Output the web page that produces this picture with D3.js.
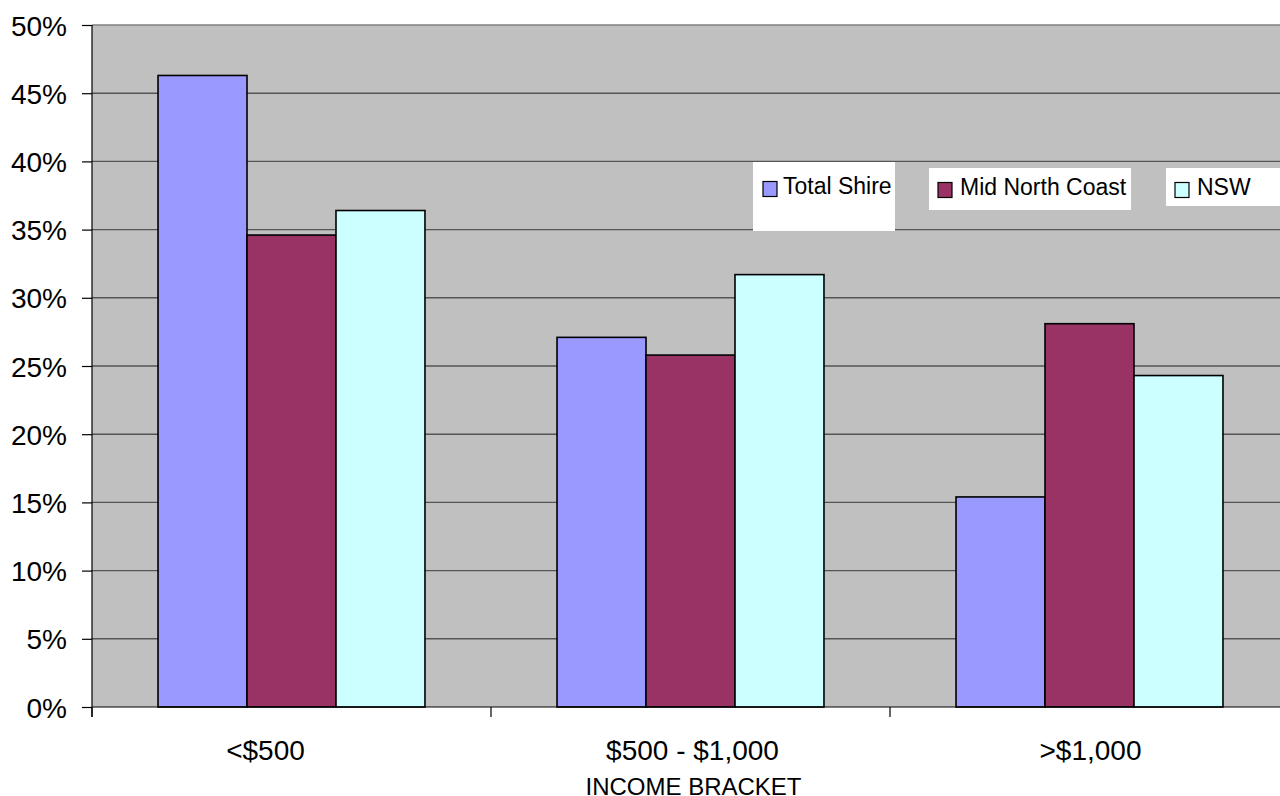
<!DOCTYPE html>
<html><head><meta charset="utf-8">
<script src="https://cdn.jsdelivr.net/npm/d3@7"></script>
<style>
html,body{margin:0;padding:0;background:#fff;overflow:hidden;}
text{font-family:"Liberation Sans",Arial,sans-serif;fill:#000;}
</style></head>
<body><svg id="chart" width="1280" height="796"></svg>
<script>
const categories = ["<$500", "$500 - $1,000", ">$1,000"];
const seriesNames = ["Total Shire", "Mid North Coast", "NSW"];
const totalShire = [0.463, 0.271, 0.154];
const midNorthCoast = [0.346, 0.258, 0.281];
const nsw = [0.364, 0.317, 0.243];
const yTicks = [0, 0.05, 0.10, 0.15, 0.20, 0.25, 0.30, 0.35, 0.40, 0.45, 0.50];
const colors = ["#9999ff", "#993366", "#ccffff"];
const xTitle = "INCOME BRACKET";
const sourceNote = "Source: Table Data ABS Census";

(function () {
const seriesValues = [totalShire, midNorthCoast, nsw];
const svg = d3.select("#chart");
const pl = 92, pr = 1289, pt = 25, pb = 707;

const x0 = d3.scaleBand().domain(categories).range([pl, pr]).paddingInner(0).paddingOuter(0);
const x1 = d3.scaleBand().domain(seriesNames).range([0, x0.bandwidth()]).paddingInner(0).paddingOuter(0.742);
const y = d3.scaleLinear().domain([0, 0.5]).range([pb, pt]);

svg.append("rect").attr("x", pl).attr("y", pt).attr("width", pr - pl).attr("height", pb - pt).attr("fill", "#c0c0c0");

svg.append("g").selectAll("line").data(yTicks.filter(d => d > 0)).join("line")
  .attr("x1", pl).attr("x2", pr)
  .attr("y1", d => y(d)).attr("y2", d => y(d))
  .attr("stroke", d => d === 0.5 ? "#808080" : "#555").attr("stroke-width", 1.4);

const rows = categories.map((c, i) => ({cat: c, vals: seriesNames.map((s, j) => ({s, j, v: seriesValues[j][i]}))}));
const g = svg.append("g").selectAll("g").data(rows).join("g").attr("transform", d => `translate(${x0(d.cat)},0)`);
g.selectAll("rect").data(d => d.vals).join("rect")
  .attr("x", d => x1(d.s)).attr("width", x1.bandwidth())
  .attr("y", d => y(d.v)).attr("height", d => y(0) - y(d.v))
  .attr("fill", d => colors[d.j]).attr("stroke", "#000").attr("stroke-width", 1.6);

const yAxis = d3.axisLeft(y).tickValues(yTicks).tickFormat(d3.format(".0%")).tickSize(10).tickPadding(15);
const ya = svg.append("g").attr("transform", `translate(${pl},0)`).call(yAxis);
ya.select(".domain").attr("stroke", "#000").attr("stroke-width", 1.2).attr("d", `M0,${pt}V${pb + 10}`);
ya.selectAll(".tick line").attr("stroke", "#000").attr("stroke-width", 1.2);
ya.selectAll(".tick text").attr("font-size", 28).attr("font-family", "Liberation Sans, Arial, sans-serif").attr("fill", "#000").attr("dy", "0.36em");

const xa = svg.append("g").attr("transform", `translate(0,${pb})`);
xa.append("line").attr("x1", pl).attr("x2", pr).attr("y1", 0).attr("y2", 0).attr("stroke", "#000").attr("stroke-width", 1.2);
xa.selectAll("line.tk").data(categories).join("line").attr("class", "tk")
  .attr("x1", d => x0(d)).attr("x2", d => x0(d)).attr("y1", 0).attr("y2", 10)
  .attr("stroke", "#000").attr("stroke-width", 1.2);
const labelShift = [-26, 2, 1];
xa.selectAll("text.lbl").data(categories).join("text").attr("class", "lbl")
  .attr("x", (d, i) => x0(d) + x0.bandwidth() / 2 + labelShift[i]).attr("y", 53)
  .attr("text-anchor", "middle").attr("font-size", 28).text(d => d);

svg.append("text").attr("x", (x0(categories[1]) + x0.bandwidth() / 2) + 3).attr("y", 795)
  .attr("text-anchor", "middle").attr("font-size", 24).text(xTitle);

svg.append("text").attr("x", 93).attr("y", 809).attr("font-size", 18).text(sourceNote);

const legendBoxes = [
  {x: 753, y: 162, w: 142, h: 69},
  {x: 929, y: 168, w: 202, h: 42},
  {x: 1166, y: 168, w: 124, h: 38}
];
const lg = svg.append("g").selectAll("g").data(seriesNames).join("g");
lg.append("rect").attr("x", (d, i) => legendBoxes[i].x).attr("y", (d, i) => legendBoxes[i].y)
  .attr("width", (d, i) => legendBoxes[i].w).attr("height", (d, i) => legendBoxes[i].h).attr("fill", "#fff");
lg.append("rect").attr("x", (d, i) => legendBoxes[i].x + (i === 0 ? 10 : 9)).attr("y", (d, i) => legendBoxes[i].y + (i === 0 ? 19.5 : 14.5))
  .attr("width", 14).attr("height", 15).attr("fill", (d, i) => colors[i]).attr("stroke", "#000").attr("stroke-width", 1.2);
lg.append("text").attr("x", (d, i) => legendBoxes[i].x + (i === 0 ? 30 : 31)).attr("y", (d, i) => legendBoxes[i].y + (i === 0 ? 32 : 27))
  .attr("font-size", 23).text(d => d);
})();
</script></body></html>
